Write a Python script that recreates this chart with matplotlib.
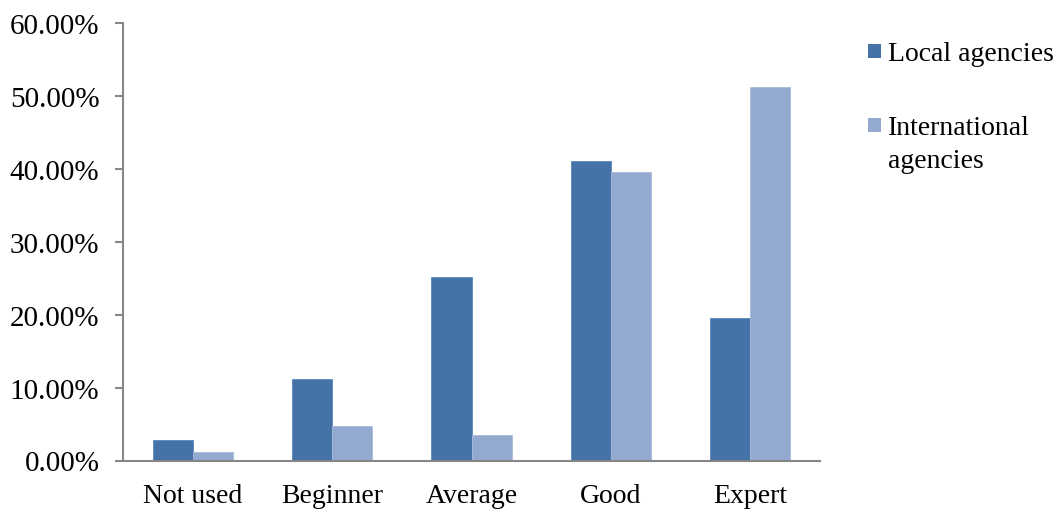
import numpy as np
import matplotlib.pyplot as plt
from matplotlib.patches import Rectangle
from matplotlib.ticker import FuncFormatter

levels = ["Not used", "Beginner", "Average", "Good", "Expert"]
local = [2.8, 11.2, 25.2, 41.1, 19.6]
international = [1.2, 4.7, 3.5, 39.5, 51.2]
series_names = [["Local agencies"], ["International", "agencies"]]

c_local = "#4572A7"
c_intl = "#93A9CF"

plt.rcParams["font.family"] = "Liberation Serif"

W, H = 1059, 510
fig = plt.figure(figsize=(W / 100, H / 100), dpi=100)
ax = fig.add_axes([123 / W, 1 - 461.5 / H, 697 / W, 437.5 / H])

x = np.arange(len(levels))
width = 0.287
ax.bar(x - width / 2, local, width, color=c_local, edgecolor="#5A86B8", linewidth=0.6)
ax.bar(x + width / 2, international, width, color=c_intl, edgecolor="#A8BBDB", linewidth=0.6)

ax.set_xlim(-0.5, len(levels) - 0.5)
ax.set_ylim(0, 60)
ax.set_yticks(np.arange(0, 61, 10))
ax.yaxis.set_major_formatter(FuncFormatter(lambda v, p: f"{v:.2f}%"))
ax.set_xticks(x)
ax.set_xticklabels(levels)

for s in ["top", "right"]:
    ax.spines[s].set_visible(False)
for s in ["left", "bottom"]:
    ax.spines[s].set_color("#868686")
    ax.spines[s].set_linewidth(1.5)

ax.tick_params(axis="y", direction="out", length=6, width=1.5, color="#868686",
               pad=11, labelsize=21)
ax.tick_params(axis="x", length=0, pad=16, labelsize=20)

# legend: square markers aligned with the first text line
for color, lines, ytop in zip([c_local, c_intl], series_names, [45, 119]):
    fig.patches.append(Rectangle((868 / W, 1 - (ytop + 14) / H), 13 / W, 14 / H,
                                 transform=fig.transFigure, facecolor=color,
                                 edgecolor="none"))
    for i, line in enumerate(lines):
        fig.text(888 / W, 1 - (ytop + 16 + 33 * i) / H, line, fontsize=20,
                 va="baseline", ha="left")

fig.savefig("out.png", dpi=100)
